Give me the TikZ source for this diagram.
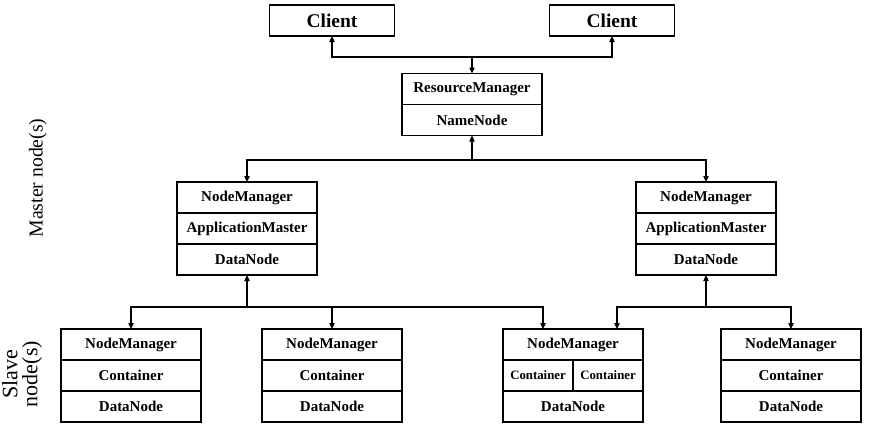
\documentclass[tikz,border=0pt]{standalone}
\usepackage{fontspec}
\setmainfont{Liberation Serif}
\usepackage{tikz}
\usetikzlibrary{positioning,arrows.meta}

\tikzset{
  cell/.style={draw, line width=0.9pt, minimum width=105pt, minimum height=23.25pt,
    inner sep=0pt, outer sep=0pt, font=\fontsize{11.25}{13}\selectfont\bfseries},
  halfcell/.style={cell, minimum width=52.5pt, font=\fontsize{9.6}{11}\selectfont\bfseries},
  clientbox/.style={cell, minimum width=93.75pt, font=\fontsize{14.6}{16}\selectfont\bfseries},
  arr/.style={line width=0.9pt, -{Triangle[length=4.5pt,width=4pt]}}
}

\begin{document}
\begin{tikzpicture}[x=0.75pt,y=0.75pt,yscale=-1,xscale=1]

\useasboundingbox (0,0) rectangle (871,430);

% clients
\node[clientbox] (cl1) at (332,20.5) {Client};
\node[clientbox] (cl2) at (612,20.5) {Client};

% resource manager
\node[cell] (rm1) at (472,89) {ResourceManager};
\node[cell, below=0pt of rm1] (rm2) {NameNode};

% master nodes
\node[cell] (m1a) at (247,197.5) {NodeManager};
\node[cell, below=0pt of m1a] (m1b) {ApplicationMaster};
\node[cell, below=0pt of m1b] (m1c) {DataNode};

\node[cell] (m2a) at (706,197.5) {NodeManager};
\node[cell, below=0pt of m2a] (m2b) {ApplicationMaster};
\node[cell, below=0pt of m2b] (m2c) {DataNode};

% slave nodes
\node[cell] (s1a) at (131,344.5) {NodeManager};
\node[cell, below=0pt of s1a] (s1b) {Container};
\node[cell, below=0pt of s1b] (s1c) {DataNode};

\node[cell] (s2a) at (332,344.5) {NodeManager};
\node[cell, below=0pt of s2a] (s2b) {Container};
\node[cell, below=0pt of s2b] (s2c) {DataNode};

\node[cell] (s3a) at (573,344.5) {NodeManager};
\node[halfcell, below right=0pt and 0pt of s3a.south west] (s3l) {Container};
\node[halfcell, below left=0pt and 0pt of s3a.south east] (s3r) {Container};
\node[cell, below=23.25pt of s3a] (s3c) {DataNode};

\node[cell] (s4a) at (791,344.5) {NodeManager};
\node[cell, below=0pt of s4a] (s4b) {Container};
\node[cell, below=0pt of s4b] (s4c) {DataNode};

% side labels
\node[rotate=90, font=\fontsize{14.8}{16}\selectfont] (lbm) at (38,178) {Master node(s)};
\node[rotate=90, align=center, font=\fontsize{16.5}{15}\selectfont] (lbs) at (22,374) {Slave\\node(s)};

% connectors
\coordinate (tj) at (472,57);
\draw[arr] (tj) -| (cl1.south);
\draw[arr] (tj) -| (cl2.south);
\draw[arr] (tj) -- (rm1.north);

\coordinate (mj) at (472,160);
\draw[arr] (mj) -- (rm2.south);
\draw[arr] (mj) -| (m1a.north);
\draw[arr] (mj) -| (m2a.north);

\coordinate (lj) at (247,307);
\draw[arr] (lj) -- (m1c.south);
\draw[arr] (lj) -| (s1a.north);
\draw[arr] (lj) -| (s2a.north);
\draw[arr] (lj) -| ([xshift=-22.5pt]s3a.north);

\coordinate (rj) at (706,307);
\draw[arr] (rj) -- (m2c.south);
\draw[arr] (rj) -| ([xshift=33pt]s3a.north);
\draw[arr] (rj) -| (s4a.north);

\end{tikzpicture}
\end{document}
